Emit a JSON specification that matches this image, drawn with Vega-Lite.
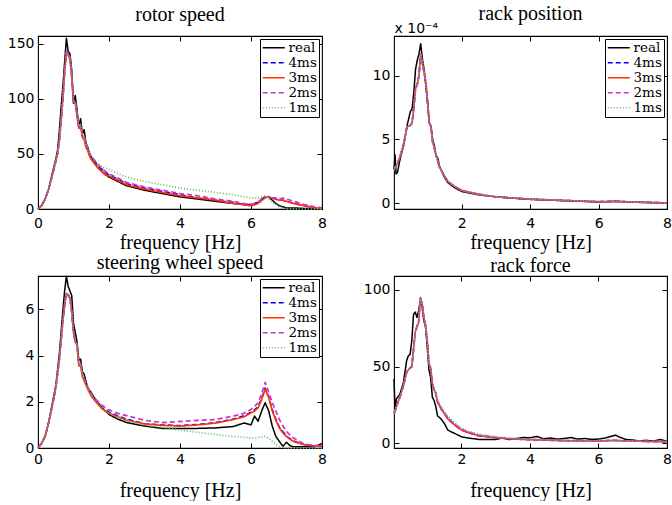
{
  "$schema": "https://vega.github.io/schema/vega-lite/v6.json",
  "padding": {"left": 6, "top": 3, "right": 0, "bottom": 0},
  "background": "white",
  "config": {
    "view": {"stroke": "black", "strokeWidth": 1.1},
    "axis": {
      "domain": false, "grid": false, "ticks": true, "tickSize": -5, "tickColor": "black", "tickWidth": 1,
      "labelFont": "DejaVu Sans", "labelFontSize": 14, "labelColor": "black", "labelFlush": false, "labelOverlap": false,
      "titleFont": "Liberation Serif", "titleFontSize": 20, "titleFontWeight": "normal", "titleColor": "black"
    },
    "axisX": {"labelPadding": 12, "titlePadding": 2},
    "axisY": {"labelPadding": 9},
    "legend": {
      "orient": "top-right", "offset": 3, "symbolType": "M-2,0H2", "symbolSize": 121, "symbolStrokeWidth": 1.5,
      "symbolOffset": 5, "labelFont": "DejaVu Serif", "labelFontSize": 13.5, "labelColor": "black", "labelOffset": 8,
      "rowPadding": 0, "padding": 2, "strokeColor": "black", "fillColor": "white", "symbolOpacity": 1
    },
    "title": {"font": "Liberation Serif", "fontSize": 20, "fontWeight": "normal", "color": "black", "anchor": "middle", "frame": "group", "baseline": "alphabetic", "offset": 10},
    "line": {"strokeJoin": "round", "clip": true}
  },
  "datasets": {
    "rotor": [
      {"f":0,"real":0,"4ms":0,"3ms":0,"2ms":0,"1ms":0},
      {"f":0.1,"real":3,"4ms":3,"3ms":3,"2ms":3,"1ms":3},
      {"f":0.2,"real":9,"4ms":9,"3ms":9,"2ms":9,"1ms":9},
      {"f":0.3,"real":18,"4ms":18,"3ms":18,"2ms":18,"1ms":18},
      {"f":0.4,"real":32,"4ms":30,"3ms":30,"2ms":30,"1ms":30},
      {"f":0.5,"real":45,"4ms":43,"3ms":43,"2ms":43,"1ms":43},
      {"f":0.55,"real":53,"4ms":50,"3ms":50,"2ms":50,"1ms":50},
      {"f":0.6,"real":70,"4ms":62,"3ms":62,"2ms":62,"1ms":62},
      {"f":0.65,"real":92,"4ms":80,"3ms":80,"2ms":80,"1ms":80},
      {"f":0.7,"real":111,"4ms":100,"3ms":100,"2ms":100,"1ms":100},
      {"f":0.75,"real":133,"4ms":124,"3ms":124,"2ms":124,"1ms":124},
      {"f":0.8,"real":155,"4ms":142,"3ms":142,"2ms":143,"1ms":141},
      {"f":0.85,"real":143,"4ms":140,"3ms":140,"2ms":141,"1ms":139},
      {"f":0.9,"real":141,"4ms":137,"3ms":136,"2ms":138,"1ms":136},
      {"f":0.95,"real":126,"4ms":120,"3ms":120,"2ms":121,"1ms":120},
      {"f":1.0,"real":96,"4ms":98,"3ms":97,"2ms":98,"1ms":97},
      {"f":1.05,"real":103,"4ms":97,"3ms":96,"2ms":98,"1ms":97},
      {"f":1.1,"real":90,"4ms":85,"3ms":84,"2ms":86,"1ms":86},
      {"f":1.15,"real":75,"4ms":74,"3ms":73,"2ms":75,"1ms":75},
      {"f":1.2,"real":82,"4ms":76,"3ms":75,"2ms":77,"1ms":76},
      {"f":1.25,"real":68,"4ms":66,"3ms":65,"2ms":67,"1ms":67},
      {"f":1.3,"real":72,"4ms":65,"3ms":63,"2ms":66,"1ms":66},
      {"f":1.35,"real":60,"4ms":58,"3ms":56,"2ms":59,"1ms":59},
      {"f":1.4,"real":56,"4ms":55,"3ms":53,"2ms":56,"1ms":56},
      {"f":1.45,"real":50,"4ms":50,"3ms":48,"2ms":51,"1ms":51},
      {"f":1.5,"real":47,"4ms":47,"3ms":45,"2ms":48,"1ms":48},
      {"f":1.6,"real":41,"4ms":43,"3ms":41,"2ms":44,"1ms":44},
      {"f":1.7,"real":37,"4ms":39,"3ms":37,"2ms":40,"1ms":41},
      {"f":1.8,"real":34,"4ms":36,"3ms":34,"2ms":37,"1ms":38},
      {"f":1.9,"real":31,"4ms":33,"3ms":31,"2ms":34,"1ms":37},
      {"f":2.0,"real":29,"4ms":31,"3ms":30,"2ms":32,"1ms":36},
      {"f":2.25,"real":25,"4ms":27,"3ms":26,"2ms":28,"1ms":32},
      {"f":2.5,"real":21,"4ms":23,"3ms":22,"2ms":24,"1ms":29},
      {"f":2.75,"real":19,"4ms":21,"3ms":20,"2ms":22,"1ms":27},
      {"f":3.0,"real":17,"4ms":19,"3ms":18,"2ms":20,"1ms":25},
      {"f":3.5,"real":14,"4ms":16,"3ms":15,"2ms":17,"1ms":22},
      {"f":4.0,"real":11,"4ms":13,"3ms":12,"2ms":14,"1ms":19},
      {"f":4.5,"real":9,"4ms":10,"3ms":10,"2ms":12,"1ms":17},
      {"f":5.0,"real":7,"4ms":8,"3ms":8,"2ms":9,"1ms":15},
      {"f":5.5,"real":5,"4ms":6,"3ms":5,"2ms":7,"1ms":13},
      {"f":5.8,"real":4,"4ms":4,"3ms":4,"2ms":5,"1ms":11},
      {"f":6.0,"real":4,"4ms":3,"3ms":3,"2ms":4,"1ms":10},
      {"f":6.2,"real":6,"4ms":5,"3ms":5,"2ms":6,"1ms":10},
      {"f":6.3,"real":9,"4ms":8,"3ms":8,"2ms":9,"1ms":11},
      {"f":6.4,"real":11,"4ms":11,"3ms":10,"2ms":11,"1ms":12},
      {"f":6.5,"real":11,"4ms":11,"3ms":11,"2ms":11,"1ms":9},
      {"f":6.6,"real":8,"4ms":10,"3ms":10,"2ms":10,"1ms":6},
      {"f":6.7,"real":5,"4ms":9,"3ms":9,"2ms":10,"1ms":4},
      {"f":6.8,"real":3,"4ms":8,"3ms":8,"2ms":9,"1ms":2},
      {"f":6.9,"real":2,"4ms":8,"3ms":8,"2ms":10,"1ms":1},
      {"f":7.0,"real":1,"4ms":7,"3ms":7,"2ms":9,"1ms":0},
      {"f":7.2,"real":1,"4ms":5,"3ms":5,"2ms":7,"1ms":0},
      {"f":7.5,"real":0.5,"4ms":3,"3ms":3,"2ms":4,"1ms":0},
      {"f":7.8,"real":0.3,"4ms":1,"3ms":1,"2ms":2,"1ms":0},
      {"f":8.0,"real":0.3,"4ms":0.5,"3ms":0.5,"2ms":1,"1ms":0}
    ],
    "rack": [
      {"f":0.02,"real":2.6,"4ms":2.6,"3ms":2.6,"2ms":2.6,"1ms":2.6},
      {"f":0.05,"real":3.8,"4ms":2.8,"3ms":2.8,"2ms":2.8,"1ms":2.8},
      {"f":0.08,"real":2.3,"4ms":2.9,"3ms":2.9,"2ms":2.9,"1ms":2.9},
      {"f":0.12,"real":2.4,"4ms":3.1,"3ms":3.1,"2ms":3.1,"1ms":3.1},
      {"f":0.2,"real":3.5,"4ms":3.7,"3ms":3.7,"2ms":3.7,"1ms":3.7},
      {"f":0.3,"real":4.5,"4ms":4.6,"3ms":4.6,"2ms":4.6,"1ms":4.6},
      {"f":0.4,"real":6.05,"4ms":6.0,"3ms":6.0,"2ms":6.0,"1ms":6.0},
      {"f":0.5,"real":7.2,"4ms":6.1,"3ms":6.1,"2ms":6.1,"1ms":6.1},
      {"f":0.55,"real":7.4,"4ms":6.3,"3ms":6.3,"2ms":6.3,"1ms":6.3},
      {"f":0.6,"real":8.7,"4ms":7.5,"3ms":7.5,"2ms":7.5,"1ms":7.5},
      {"f":0.65,"real":10.5,"4ms":9.0,"3ms":9.0,"2ms":9.0,"1ms":9.0},
      {"f":0.7,"real":11.2,"4ms":9.3,"3ms":9.3,"2ms":9.3,"1ms":9.3},
      {"f":0.75,"real":11.7,"4ms":10.0,"3ms":10.0,"2ms":10.0,"1ms":10.0},
      {"f":0.8,"real":12.5,"4ms":11.7,"3ms":11.7,"2ms":11.7,"1ms":11.6},
      {"f":0.85,"real":11.3,"4ms":11.0,"3ms":11.0,"2ms":11.0,"1ms":11.0},
      {"f":0.9,"real":10.5,"4ms":10.2,"3ms":10.2,"2ms":10.2,"1ms":10.2},
      {"f":0.95,"real":9.2,"4ms":9.5,"3ms":9.5,"2ms":9.5,"1ms":9.5},
      {"f":1.0,"real":7.9,"4ms":8.0,"3ms":8.0,"2ms":8.0,"1ms":8.0},
      {"f":1.05,"real":6.3,"4ms":6.3,"3ms":6.3,"2ms":6.3,"1ms":6.3},
      {"f":1.1,"real":6.05,"4ms":6.0,"3ms":6.0,"2ms":6.0,"1ms":6.0},
      {"f":1.15,"real":5.0,"4ms":4.8,"3ms":4.8,"2ms":4.8,"1ms":4.8},
      {"f":1.2,"real":4.5,"4ms":4.3,"3ms":4.3,"2ms":4.3,"1ms":4.3},
      {"f":1.25,"real":3.7,"4ms":3.8,"3ms":3.8,"2ms":3.8,"1ms":3.8},
      {"f":1.3,"real":3.55,"4ms":3.3,"3ms":3.3,"2ms":3.3,"1ms":3.3},
      {"f":1.35,"real":2.9,"4ms":2.8,"3ms":2.8,"2ms":2.8,"1ms":2.8},
      {"f":1.4,"real":2.6,"4ms":2.6,"3ms":2.6,"2ms":2.6,"1ms":2.6},
      {"f":1.5,"real":2.0,"4ms":2.1,"3ms":2.1,"2ms":2.1,"1ms":2.1},
      {"f":1.6,"real":1.6,"4ms":1.7,"3ms":1.7,"2ms":1.7,"1ms":1.7},
      {"f":1.8,"real":1.2,"4ms":1.3,"3ms":1.3,"2ms":1.3,"1ms":1.3},
      {"f":2.0,"real":0.92,"4ms":1.0,"3ms":1.0,"2ms":1.0,"1ms":1.0},
      {"f":2.5,"real":0.66,"4ms":0.7,"3ms":0.7,"2ms":0.7,"1ms":0.7},
      {"f":3.0,"real":0.5,"4ms":0.5,"3ms":0.5,"2ms":0.5,"1ms":0.5},
      {"f":4.0,"real":0.3,"4ms":0.32,"3ms":0.32,"2ms":0.32,"1ms":0.33},
      {"f":5.0,"real":0.2,"4ms":0.22,"3ms":0.22,"2ms":0.22,"1ms":0.23},
      {"f":6.0,"real":0.1,"4ms":0.12,"3ms":0.12,"2ms":0.12,"1ms":0.13},
      {"f":6.5,"real":0.15,"4ms":0.15,"3ms":0.15,"2ms":0.15,"1ms":0.13},
      {"f":7.0,"real":0.08,"4ms":0.1,"3ms":0.1,"2ms":0.1,"1ms":0.1},
      {"f":8.0,"real":0.02,"4ms":0.03,"3ms":0.03,"2ms":0.03,"1ms":0.03}
    ],
    "steer": [
      {"f":0,"real":0,"4ms":0,"3ms":0,"2ms":0,"1ms":0},
      {"f":0.1,"real":0.2,"4ms":0.2,"3ms":0.2,"2ms":0.2,"1ms":0.2},
      {"f":0.2,"real":0.5,"4ms":0.5,"3ms":0.5,"2ms":0.5,"1ms":0.5},
      {"f":0.3,"real":1.1,"4ms":1.1,"3ms":1.1,"2ms":1.1,"1ms":1.1},
      {"f":0.4,"real":1.9,"4ms":1.8,"3ms":1.8,"2ms":1.8,"1ms":1.8},
      {"f":0.5,"real":2.7,"4ms":2.6,"3ms":2.6,"2ms":2.6,"1ms":2.6},
      {"f":0.6,"real":4.05,"4ms":3.8,"3ms":3.8,"2ms":3.8,"1ms":3.8},
      {"f":0.7,"real":5.95,"4ms":5.5,"3ms":5.5,"2ms":5.5,"1ms":5.5},
      {"f":0.75,"real":6.8,"4ms":6.2,"3ms":6.2,"2ms":6.2,"1ms":6.2},
      {"f":0.8,"real":7.44,"4ms":6.7,"3ms":6.7,"2ms":6.7,"1ms":6.7},
      {"f":0.85,"real":7.0,"4ms":6.6,"3ms":6.6,"2ms":6.65,"1ms":6.6},
      {"f":0.9,"real":6.8,"4ms":6.5,"3ms":6.5,"2ms":6.5,"1ms":6.5},
      {"f":0.95,"real":6.6,"4ms":5.9,"3ms":5.9,"2ms":5.9,"1ms":5.9},
      {"f":1.0,"real":5.4,"4ms":5.0,"3ms":5.0,"2ms":5.0,"1ms":5.0},
      {"f":1.05,"real":5.0,"4ms":4.6,"3ms":4.6,"2ms":4.6,"1ms":4.6},
      {"f":1.1,"real":4.6,"4ms":4.5,"3ms":4.45,"2ms":4.5,"1ms":4.5},
      {"f":1.15,"real":3.8,"4ms":3.6,"3ms":3.55,"2ms":3.65,"1ms":3.6},
      {"f":1.2,"real":3.85,"4ms":3.6,"3ms":3.55,"2ms":3.65,"1ms":3.6},
      {"f":1.25,"real":3.3,"4ms":3.2,"3ms":3.1,"2ms":3.2,"1ms":3.2},
      {"f":1.3,"real":3.2,"4ms":3.0,"3ms":2.9,"2ms":3.0,"1ms":3.0},
      {"f":1.4,"real":2.6,"4ms":2.6,"3ms":2.55,"2ms":2.65,"1ms":2.6},
      {"f":1.5,"real":2.4,"4ms":2.3,"3ms":2.25,"2ms":2.35,"1ms":2.3},
      {"f":1.6,"real":2.15,"4ms":2.1,"3ms":2.05,"2ms":2.15,"1ms":2.1},
      {"f":1.8,"real":1.75,"4ms":1.75,"3ms":1.7,"2ms":1.85,"1ms":1.75},
      {"f":2.0,"real":1.45,"4ms":1.55,"3ms":1.5,"2ms":1.65,"1ms":1.5},
      {"f":2.25,"real":1.25,"4ms":1.4,"3ms":1.35,"2ms":1.5,"1ms":1.35},
      {"f":2.5,"real":1.1,"4ms":1.25,"3ms":1.2,"2ms":1.4,"1ms":1.2},
      {"f":3.0,"real":0.95,"4ms":1.05,"3ms":1.05,"2ms":1.2,"1ms":1.0},
      {"f":3.5,"real":0.85,"4ms":1.0,"3ms":0.98,"2ms":1.1,"1ms":0.9},
      {"f":4.0,"real":0.85,"4ms":0.97,"3ms":0.95,"2ms":1.15,"1ms":0.77},
      {"f":4.5,"real":0.85,"4ms":1.02,"3ms":1.0,"2ms":1.2,"1ms":0.68},
      {"f":5.0,"real":0.87,"4ms":1.1,"3ms":1.08,"2ms":1.23,"1ms":0.58},
      {"f":5.5,"real":0.93,"4ms":1.25,"3ms":1.23,"2ms":1.38,"1ms":0.5},
      {"f":5.8,"real":1.08,"4ms":1.4,"3ms":1.35,"2ms":1.5,"1ms":0.46},
      {"f":6.0,"real":1.0,"4ms":1.55,"3ms":1.52,"2ms":1.67,"1ms":0.43},
      {"f":6.1,"real":1.38,"4ms":1.65,"3ms":1.6,"2ms":1.8,"1ms":0.44},
      {"f":6.2,"real":1.16,"4ms":1.78,"3ms":1.74,"2ms":1.96,"1ms":0.45},
      {"f":6.3,"real":1.6,"4ms":2.15,"3ms":2.1,"2ms":2.35,"1ms":0.47},
      {"f":6.4,"real":1.96,"4ms":2.6,"3ms":2.55,"2ms":2.84,"1ms":0.5},
      {"f":6.5,"real":1.6,"4ms":2.2,"3ms":2.18,"2ms":2.4,"1ms":0.42},
      {"f":6.6,"real":0.94,"4ms":1.65,"3ms":1.6,"2ms":1.96,"1ms":0.28},
      {"f":6.7,"real":0.5,"4ms":1.25,"3ms":1.2,"2ms":1.6,"1ms":0.15},
      {"f":6.8,"real":0.28,"4ms":0.9,"3ms":0.87,"2ms":1.23,"1ms":0.07},
      {"f":6.9,"real":0.07,"4ms":0.7,"3ms":0.65,"2ms":0.95,"1ms":0.02},
      {"f":7.0,"real":0.25,"4ms":0.52,"3ms":0.5,"2ms":0.72,"1ms":0},
      {"f":7.1,"real":0.1,"4ms":0.4,"3ms":0.38,"2ms":0.55,"1ms":0},
      {"f":7.2,"real":0.05,"4ms":0.3,"3ms":0.28,"2ms":0.43,"1ms":0},
      {"f":7.5,"real":0.05,"4ms":0.15,"3ms":0.14,"2ms":0.17,"1ms":0},
      {"f":7.8,"real":0.05,"4ms":0.08,"3ms":0.08,"2ms":0.1,"1ms":0},
      {"f":8.0,"real":0.2,"4ms":0.07,"3ms":0.07,"2ms":0.1,"1ms":0}
    ],
    "force": [
      {"f":0.03,"real":42,"4ms":19.5,"3ms":19.5,"2ms":19.5,"1ms":19.5},
      {"f":0.06,"real":22,"4ms":21,"3ms":21,"2ms":21,"1ms":21},
      {"f":0.1,"real":29,"4ms":24,"3ms":24,"2ms":24,"1ms":24},
      {"f":0.2,"real":32,"4ms":30,"3ms":30,"2ms":30,"1ms":30},
      {"f":0.3,"real":39,"4ms":37,"3ms":37,"2ms":37,"1ms":37},
      {"f":0.4,"real":54,"4ms":46.5,"3ms":46.5,"2ms":46.5,"1ms":46.5},
      {"f":0.45,"real":57,"4ms":48,"3ms":48,"2ms":48,"1ms":48},
      {"f":0.5,"real":58,"4ms":49,"3ms":49,"2ms":49,"1ms":49},
      {"f":0.55,"real":67,"4ms":50,"3ms":50,"2ms":50,"1ms":50},
      {"f":0.6,"real":84,"4ms":61,"3ms":61,"2ms":61,"1ms":61},
      {"f":0.65,"real":85.5,"4ms":72.5,"3ms":72.5,"2ms":72.5,"1ms":72.5},
      {"f":0.7,"real":82,"4ms":76,"3ms":76,"2ms":76,"1ms":76},
      {"f":0.75,"real":86.6,"4ms":79,"3ms":79,"2ms":79,"1ms":79},
      {"f":0.8,"real":93,"4ms":94.5,"3ms":94.5,"2ms":95,"1ms":94},
      {"f":0.85,"real":89,"4ms":91,"3ms":91,"2ms":91,"1ms":91},
      {"f":0.9,"real":80,"4ms":82,"3ms":82,"2ms":82,"1ms":82},
      {"f":0.95,"real":76,"4ms":77,"3ms":77,"2ms":77,"1ms":77},
      {"f":1.0,"real":63,"4ms":67,"3ms":67,"2ms":67,"1ms":67},
      {"f":1.05,"real":48,"4ms":52,"3ms":52,"2ms":52,"1ms":52},
      {"f":1.1,"real":43,"4ms":49,"3ms":49,"2ms":49,"1ms":49},
      {"f":1.15,"real":30,"4ms":39,"3ms":39,"2ms":39,"1ms":39},
      {"f":1.2,"real":28,"4ms":35,"3ms":35,"2ms":35,"1ms":35},
      {"f":1.25,"real":24,"4ms":32.5,"3ms":32.5,"2ms":33,"1ms":33},
      {"f":1.3,"real":18,"4ms":27,"3ms":27,"2ms":27.5,"1ms":28},
      {"f":1.35,"real":17,"4ms":25,"3ms":25,"2ms":25.5,"1ms":26},
      {"f":1.4,"real":16,"4ms":22.7,"3ms":22.7,"2ms":23,"1ms":24},
      {"f":1.5,"real":13,"4ms":19.5,"3ms":19.5,"2ms":20,"1ms":21},
      {"f":1.6,"real":8.7,"4ms":16,"3ms":16,"2ms":16.5,"1ms":17.5},
      {"f":1.7,"real":7.5,"4ms":14,"3ms":14,"2ms":14.5,"1ms":15.5},
      {"f":1.8,"real":6.5,"4ms":12,"3ms":12,"2ms":12.5,"1ms":13.5},
      {"f":2.0,"real":4.3,"4ms":8.7,"3ms":8.7,"2ms":9.2,"1ms":10},
      {"f":2.2,"real":3.5,"4ms":7,"3ms":7,"2ms":7.4,"1ms":8},
      {"f":2.5,"real":2.6,"4ms":5,"3ms":5,"2ms":5.4,"1ms":6},
      {"f":3.0,"real":2.6,"4ms":3.7,"3ms":3.7,"2ms":4,"1ms":4.3},
      {"f":3.2,"real":3.5,"4ms":3.3,"3ms":3.3,"2ms":3.6,"1ms":3.8},
      {"f":3.4,"real":2.5,"4ms":3.0,"3ms":3.0,"2ms":3.2,"1ms":3.4},
      {"f":3.6,"real":3.2,"4ms":2.8,"3ms":2.8,"2ms":3.0,"1ms":3.1},
      {"f":3.8,"real":3.8,"4ms":2.6,"3ms":2.6,"2ms":2.8,"1ms":2.9},
      {"f":4.0,"real":3.7,"4ms":2.4,"3ms":2.4,"2ms":2.6,"1ms":2.7},
      {"f":4.2,"real":4.5,"4ms":2.3,"3ms":2.3,"2ms":2.5,"1ms":2.5},
      {"f":4.4,"real":3.0,"4ms":2.2,"3ms":2.2,"2ms":2.4,"1ms":2.4},
      {"f":4.6,"real":3.5,"4ms":2.0,"3ms":2.0,"2ms":2.2,"1ms":2.2},
      {"f":4.8,"real":2.8,"4ms":1.9,"3ms":1.9,"2ms":2.1,"1ms":2.1},
      {"f":5.0,"real":3.2,"4ms":1.7,"3ms":1.7,"2ms":1.9,"1ms":1.9},
      {"f":5.2,"real":3.8,"4ms":1.7,"3ms":1.7,"2ms":1.8,"1ms":1.8},
      {"f":5.4,"real":2.8,"4ms":1.6,"3ms":1.6,"2ms":1.8,"1ms":1.7},
      {"f":5.6,"real":3.2,"4ms":1.6,"3ms":1.6,"2ms":1.7,"1ms":1.7},
      {"f":5.8,"real":2.6,"4ms":1.5,"3ms":1.5,"2ms":1.7,"1ms":1.6},
      {"f":6.0,"real":2.8,"4ms":1.5,"3ms":1.5,"2ms":1.6,"1ms":1.6},
      {"f":6.2,"real":3.5,"4ms":1.7,"3ms":1.7,"2ms":1.8,"1ms":1.7},
      {"f":6.4,"real":4.8,"4ms":1.9,"3ms":1.9,"2ms":2.0,"1ms":1.8},
      {"f":6.5,"real":5.4,"4ms":1.9,"3ms":1.9,"2ms":2.0,"1ms":1.8},
      {"f":6.6,"real":4.2,"4ms":1.8,"3ms":1.8,"2ms":1.9,"1ms":1.7},
      {"f":6.8,"real":2.6,"4ms":1.6,"3ms":1.6,"2ms":1.7,"1ms":1.6},
      {"f":7.0,"real":2.2,"4ms":1.5,"3ms":1.5,"2ms":1.6,"1ms":1.5},
      {"f":7.2,"real":1.6,"4ms":1.4,"3ms":1.4,"2ms":1.5,"1ms":1.4},
      {"f":7.4,"real":2.0,"4ms":1.3,"3ms":1.3,"2ms":1.4,"1ms":1.3},
      {"f":7.6,"real":1.5,"4ms":1.2,"3ms":1.2,"2ms":1.3,"1ms":1.2},
      {"f":7.8,"real":2.6,"4ms":1.2,"3ms":1.2,"2ms":1.3,"1ms":1.2},
      {"f":8.0,"real":1.3,"4ms":1.1,"3ms":1.1,"2ms":1.2,"1ms":1.1}
    ]
  },
  "columns": 2,
  "bounds": "flush",
  "spacing": {"row": 67, "column": 72},
  "resolve": {
    "scale": {"x": "independent", "y": "independent"},
    "legend": {"color": "independent", "strokeDash": "independent"}
  },
  "concat": [
    {
      "title": "rotor speed",
      "width": 284, "height": 173,
      "data": {"name": "rotor"},
      "transform": [{"fold": ["real", "4ms", "3ms", "2ms", "1ms"], "as": ["s", "v"]}],
      "resolve": {"axis": {"x": "independent", "y": "independent"}},
      "layer": [
        {
          "mark": {"type": "line"},
          "encoding": {
            "x": {"field": "f", "type": "quantitative", "scale": {"domain": [0, 8], "nice": false, "zero": false}, "axis": {"values": [0, 2, 4, 6, 8], "title": "frequency [Hz]"}},
            "y": {"field": "v", "type": "quantitative", "scale": {"domain": [0, 157], "nice": false}, "axis": {"values": [0, 50, 100, 150], "title": null}},
            "color": {"field": "s", "type": "nominal", "scale": {"domain": ["real", "4ms", "3ms", "2ms", "1ms"], "range": ["#000000", "#0000ff", "#ff3300", "#cc33cc", "#66bb66"]}, "legend": {"title": null}},
            "strokeDash": {"field": "s", "type": "nominal", "scale": {"domain": ["real", "4ms", "3ms", "2ms", "1ms"], "range": [[1, 0], [5, 3], [1, 0], [5, 3], [1, 2]]}, "legend": {"title": null}},
            "strokeWidth": {"field": "s", "type": "nominal", "scale": {"domain": ["real", "4ms", "3ms", "2ms", "1ms"], "range": [1.5, 1.8, 2.1, 2.1, 1.2]}, "legend": null}
          }
        },
        {
          "mark": {"type": "point", "opacity": 0},
          "encoding": {
            "x": {"field": "f", "type": "quantitative", "scale": {"domain": [0, 8], "nice": false, "zero": false}, "axis": {"orient": "top", "values": [0, 2, 4, 6, 8], "labels": false, "title": null}},
            "y": {"field": "v", "type": "quantitative", "scale": {"domain": [0, 157], "nice": false}, "axis": {"orient": "right", "values": [0, 50, 100, 150], "labels": false, "title": null}}
          }
        }
      ]
    },
    {
      "title": {"text": "rack position", "offset": -3},
      "width": 273, "height": 173,
      "data": {"name": "rack"},
      "transform": [{"fold": ["real", "4ms", "3ms", "2ms", "1ms"], "as": ["s", "v"]}],
      "resolve": {"axis": {"x": "independent", "y": "independent"}},
      "layer": [
        {
          "mark": {"type": "line"},
          "encoding": {
            "x": {"field": "f", "type": "quantitative", "scale": {"domain": [0.02, 8], "nice": false, "zero": false}, "axis": {"values": [2, 4, 6, 8], "title": "frequency [Hz]"}},
            "y": {"field": "v", "type": "quantitative", "scale": {"domain": [-0.45, 13.1], "nice": false, "zero": false}, "axis": {"values": [0, 5, 10], "title": "x 10⁻⁴", "titleAngle": 0, "titleAlign": "left", "titleBaseline": "alphabetic", "titleX": 0, "titleY": -4, "titleFont": "DejaVu Sans", "titleFontSize": 14, "titleFontWeight": "normal"}},
            "color": {"field": "s", "type": "nominal", "scale": {"domain": ["real", "4ms", "3ms", "2ms", "1ms"], "range": ["#000000", "#0000ff", "#ff3300", "#cc33cc", "#66bb66"]}, "legend": {"title": null}},
            "strokeDash": {"field": "s", "type": "nominal", "scale": {"domain": ["real", "4ms", "3ms", "2ms", "1ms"], "range": [[1, 0], [5, 3], [1, 0], [5, 3], [1, 2]]}, "legend": {"title": null}},
            "strokeWidth": {"field": "s", "type": "nominal", "scale": {"domain": ["real", "4ms", "3ms", "2ms", "1ms"], "range": [1.5, 1.8, 2.0, 2.0, 1.2]}, "legend": null}
          }
        },
        {
          "mark": {"type": "point", "opacity": 0},
          "encoding": {
            "x": {"field": "f", "type": "quantitative", "scale": {"domain": [0.02, 8], "nice": false, "zero": false}, "axis": {"orient": "top", "values": [2, 4, 6, 8], "labels": false, "title": null}},
            "y": {"field": "v", "type": "quantitative", "scale": {"domain": [-0.45, 13.1], "nice": false, "zero": false}, "axis": {"orient": "right", "values": [0, 5, 10], "labels": false, "title": null}}
          }
        }
      ]
    },
    {
      "title": {"text": "steering wheel speed", "offset": 0},
      "width": 284, "height": 172,
      "data": {"name": "steer"},
      "transform": [{"fold": ["real", "4ms", "3ms", "2ms", "1ms"], "as": ["s", "v"]}],
      "resolve": {"axis": {"x": "independent", "y": "independent"}},
      "layer": [
        {
          "mark": {"type": "line"},
          "encoding": {
            "x": {"field": "f", "type": "quantitative", "scale": {"domain": [0, 8], "nice": false, "zero": false}, "axis": {"values": [0, 2, 4, 6, 8], "title": "frequency [Hz]", "labelPadding": 9, "titlePadding": 14}},
            "y": {"field": "v", "type": "quantitative", "scale": {"domain": [0, 7.45], "nice": false}, "axis": {"values": [0, 2, 4, 6], "title": null}},
            "color": {"field": "s", "type": "nominal", "scale": {"domain": ["real", "4ms", "3ms", "2ms", "1ms"], "range": ["#000000", "#0000ff", "#ff3300", "#cc33cc", "#66bb66"]}, "legend": {"title": null}},
            "strokeDash": {"field": "s", "type": "nominal", "scale": {"domain": ["real", "4ms", "3ms", "2ms", "1ms"], "range": [[1, 0], [5, 3], [1, 0], [5, 3], [1, 2]]}, "legend": {"title": null}},
            "strokeWidth": {"field": "s", "type": "nominal", "scale": {"domain": ["real", "4ms", "3ms", "2ms", "1ms"], "range": [1.5, 1.8, 2.2, 2.4, 1.2]}, "legend": null}
          }
        },
        {
          "mark": {"type": "point", "opacity": 0},
          "encoding": {
            "x": {"field": "f", "type": "quantitative", "scale": {"domain": [0, 8], "nice": false, "zero": false}, "axis": {"orient": "top", "values": [0, 2, 4, 6, 8], "labels": false, "title": null}},
            "y": {"field": "v", "type": "quantitative", "scale": {"domain": [0, 7.45], "nice": false}, "axis": {"orient": "right", "values": [0, 2, 4, 6], "labels": false, "title": null}}
          }
        }
      ]
    },
    {
      "title": {"text": "rack force", "offset": 0},
      "width": 273, "height": 172,
      "data": {"name": "force"},
      "transform": [{"fold": ["real", "4ms", "3ms", "2ms", "1ms"], "as": ["s", "v"]}],
      "resolve": {"axis": {"x": "independent", "y": "independent"}},
      "layer": [
        {
          "mark": {"type": "line"},
          "encoding": {
            "x": {"field": "f", "type": "quantitative", "scale": {"domain": [0.03, 8], "nice": false, "zero": false}, "axis": {"values": [2, 4, 6, 8], "title": "frequency [Hz]", "labelPadding": 9, "titlePadding": 14}},
            "y": {"field": "v", "type": "quantitative", "scale": {"domain": [-3, 109], "nice": false, "zero": false}, "axis": {"values": [0, 50, 100], "title": null}},
            "color": {"field": "s", "type": "nominal", "scale": {"domain": ["real", "4ms", "3ms", "2ms", "1ms"], "range": ["#000000", "#0000ff", "#ff3300", "#cc33cc", "#66bb66"]}, "legend": null},
            "strokeDash": {"field": "s", "type": "nominal", "scale": {"domain": ["real", "4ms", "3ms", "2ms", "1ms"], "range": [[1, 0], [5, 3], [1, 0], [5, 3], [1, 2]]}, "legend": null},
            "strokeWidth": {"field": "s", "type": "nominal", "scale": {"domain": ["real", "4ms", "3ms", "2ms", "1ms"], "range": [1.6, 1.8, 2.0, 2.0, 1.2]}, "legend": null}
          }
        },
        {
          "mark": {"type": "point", "opacity": 0},
          "encoding": {
            "x": {"field": "f", "type": "quantitative", "scale": {"domain": [0.03, 8], "nice": false, "zero": false}, "axis": {"orient": "top", "values": [2, 4, 6, 8], "labels": false, "title": null}},
            "y": {"field": "v", "type": "quantitative", "scale": {"domain": [-3, 109], "nice": false, "zero": false}, "axis": {"orient": "right", "values": [0, 50, 100], "labels": false, "title": null}}
          }
        }
      ]
    }
  ]
}
